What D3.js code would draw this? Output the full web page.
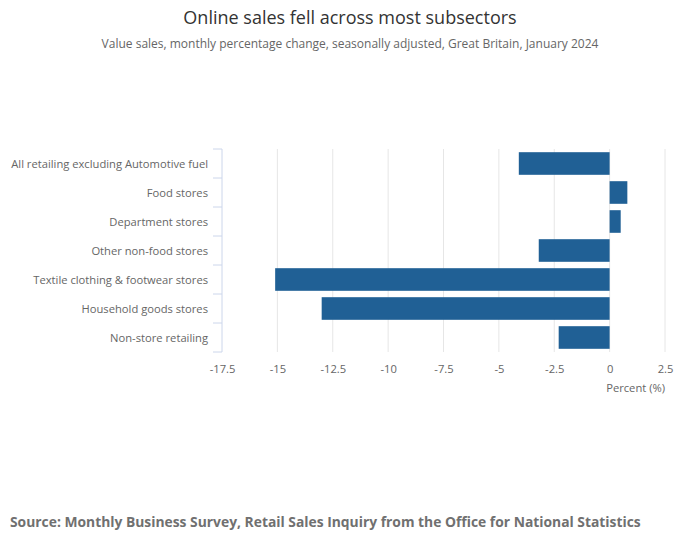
<!DOCTYPE html>
<html>
<head>
<meta charset="utf-8">
<script src="https://cdn.jsdelivr.net/npm/d3@7"></script>
<style>
  body { margin: 0; background: #fff; }
  svg { display: block; font-family: "Open Sans", "Noto Sans", sans-serif; }
</style>
</head>
<body>
<div id="chart"></div>
<script>
// ── data ──
const categories = [
  'All retailing excluding Automotive fuel',
  'Food stores',
  'Department stores',
  'Other non-food stores',
  'Textile clothing & footwear stores',
  'Household goods stores',
  'Non-store retailing'
];
const values = [-4.1, 0.8, 0.5, -3.2, -15.1, -13.0, -2.3];
const xTicks = [-17.5, -15, -12.5, -10, -7.5, -5, -2.5, 0, 2.5];

const W = 700, H = 549;
const M = { top: 149, right: 35, bottom: 197, left: 222 };

const svg = d3.select('#chart').append('svg')
  .attr('width', W).attr('height', H);

// ── titles ──
svg.append('text')
  .attr('x', W / 2).attr('y', 24)
  .attr('text-anchor', 'middle')
  .attr('font-size', 18).attr('fill', '#333')
  .text('Online sales fell across most subsectors');

svg.append('text')
  .attr('x', W / 2).attr('y', 48)
  .attr('text-anchor', 'middle')
  .attr('font-size', 12).attr('fill', '#666')
  .text('Value sales, monthly percentage change, seasonally adjusted, Great Britain, January 2024');

// ── scales ──
const x = d3.scaleLinear()
  .domain([-17.5, 2.5])
  .range([M.left, W - M.right]);

const y = d3.scaleBand()
  .domain(categories)
  .range([M.top, H - M.bottom])
  .paddingInner(0.22)
  .paddingOuter(0.11);

const plotBottom = H - M.bottom;

// gridlines
svg.append('g')
  .selectAll('line')
  .data(xTicks.filter(t => t !== -17.5))
  .join('line')
  .attr('x1', d => x(d)).attr('x2', d => x(d))
  .attr('y1', M.top).attr('y2', plotBottom)
  .attr('stroke', '#e6e6e6').attr('stroke-width', 1);

// bars
svg.append('g')
  .selectAll('rect')
  .data(values)
  .join('rect')
  .attr('x', d => x(Math.min(0, d)))
  .attr('width', d => Math.abs(x(d) - x(0)))
  .attr('y', (d, i) => y(categories[i]))
  .attr('height', y.bandwidth())
  .attr('fill', '#206095');

// x axis (labels only, plain hyphen minus)
const xAxis = svg.append('g')
  .attr('transform', `translate(0,${plotBottom})`)
  .call(d3.axisBottom(x).tickValues(xTicks).tickSize(0).tickPadding(13)
    .tickFormat(d => String(d)));
xAxis.select('.domain').remove();
xAxis.selectAll('text')
  .attr('font-family', '"Open Sans", sans-serif')
  .attr('font-size', 11.2).attr('fill', '#666');

svg.append('text')
  .attr('x', x(2.5)).attr('y', plotBottom + 40)
  .attr('text-anchor', 'end')
  .attr('font-size', 11.2).attr('fill', '#666')
  .text('Percent (%)');

// y axis: line + ticks between categories
const axisColor = '#ccd6eb';
const gy = svg.append('g');
gy.append('line')
  .attr('x1', M.left).attr('x2', M.left)
  .attr('y1', M.top).attr('y2', plotBottom)
  .attr('stroke', axisColor);
const bounds = d3.range(categories.length + 1).map(i => M.top + i * (plotBottom - M.top) / categories.length);
gy.selectAll('line.tk')
  .data(bounds)
  .join('line')
  .attr('class', 'tk')
  .attr('x1', M.left - 9).attr('x2', M.left)
  .attr('y1', d => d).attr('y2', d => d)
  .attr('stroke', axisColor);

gy.selectAll('text')
  .data(categories)
  .join('text')
  .attr('x', M.left - 14)
  .attr('y', d => y(d) + y.bandwidth() / 2)
  .attr('dy', '0.42em')
  .attr('text-anchor', 'end')
  .attr('font-size', 11.2).attr('fill', '#666')
  .text(d => d);

// source
svg.append('text')
  .attr('x', 10).attr('y', 527)
  .attr('font-size', 13.85).attr('font-weight', 'bold').attr('fill', '#707070')
  .text('Source: Monthly Business Survey, Retail Sales Inquiry from the Office for National Statistics');
</script>
</body>
</html>
